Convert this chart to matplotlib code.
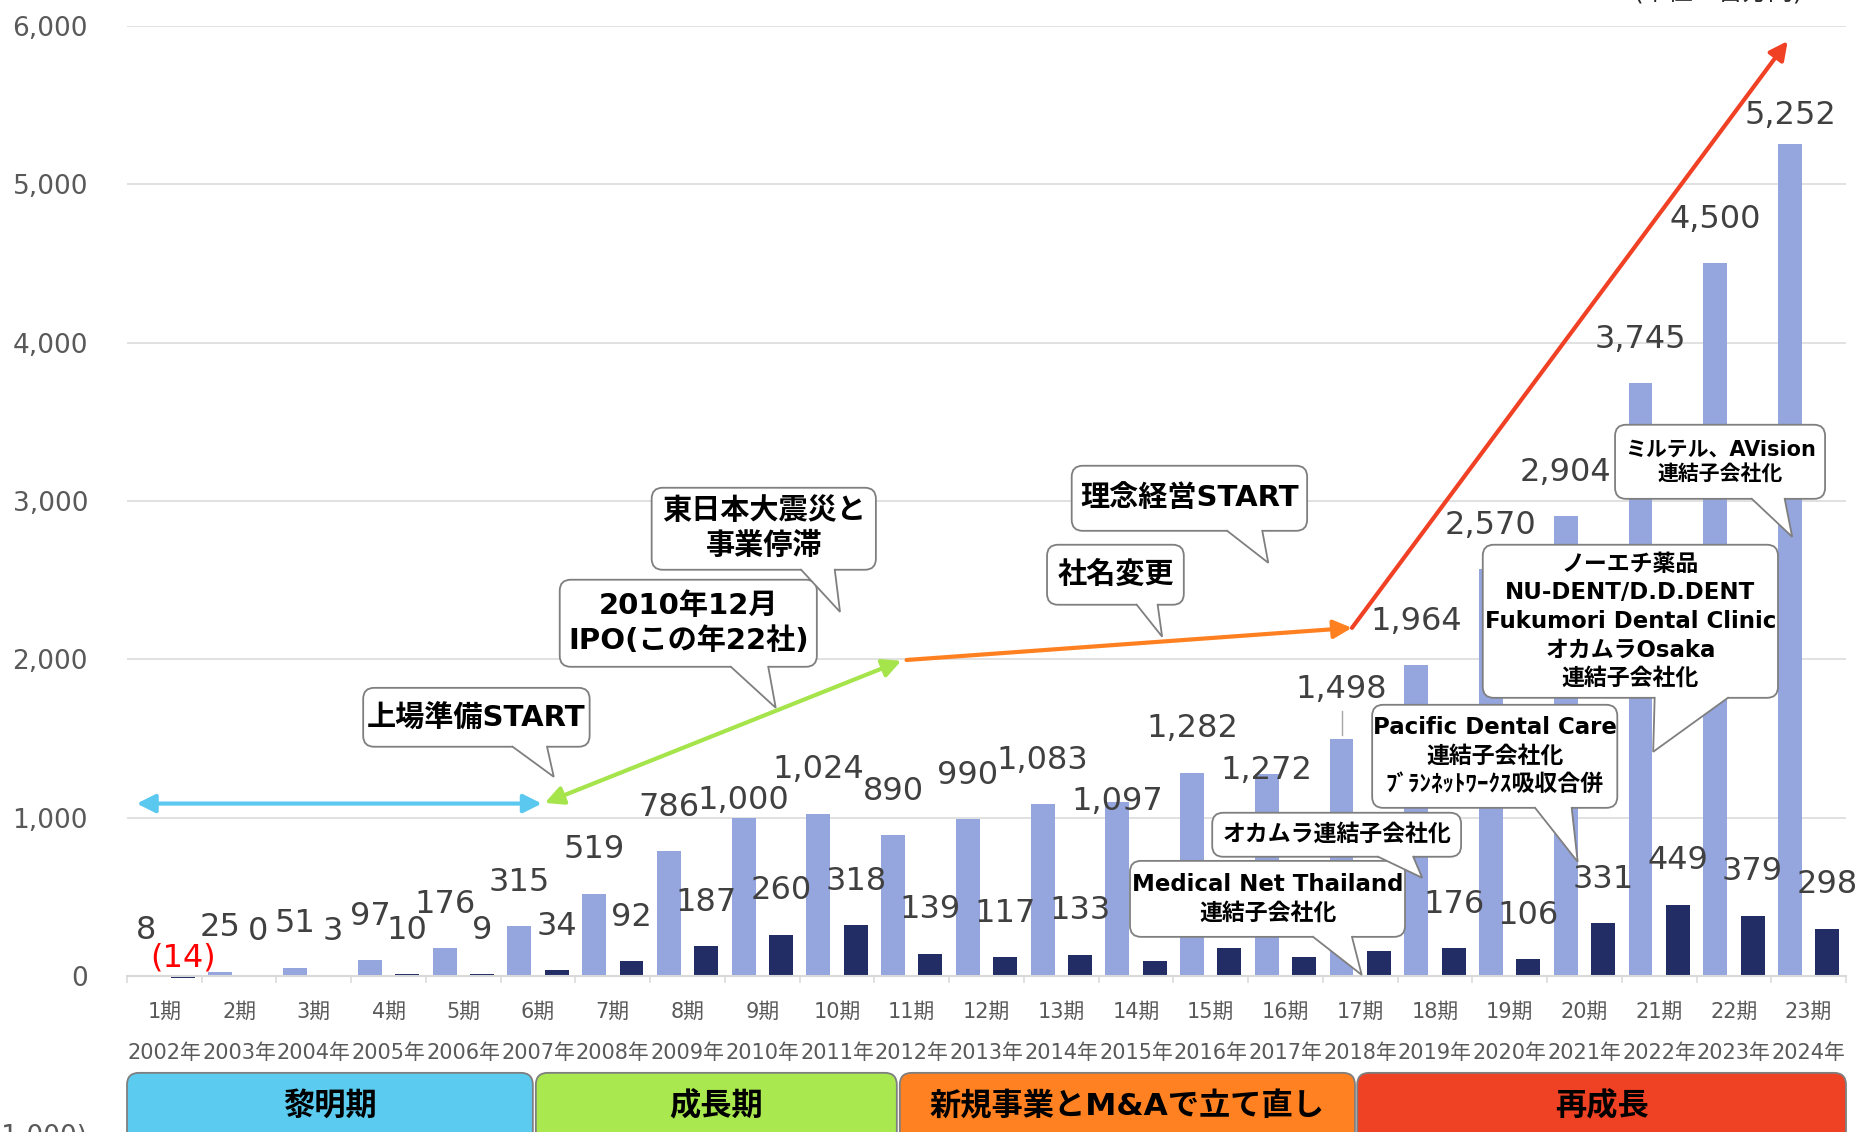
import matplotlib
matplotlib.use("Agg")
import matplotlib.pyplot as plt
from matplotlib.patches import FancyBboxPatch, Polygon, FancyArrowPatch, ArrowStyle
import numpy as np

# data
periods = ["1期", "2期", "3期", "4期", "5期", "6期", "7期", "8期", "9期", "10期", "11期", "12期",
           "13期", "14期", "15期", "16期", "17期", "18期", "19期", "20期", "21期", "22期", "23期"]
years = ["2002年", "2003年", "2004年", "2005年", "2006年", "2007年", "2008年", "2009年",
         "2010年", "2011年", "2012年", "2013年", "2014年", "2015年", "2016年", "2017年",
         "2018年", "2019年", "2020年", "2021年", "2022年", "2023年", "2024年"]
revenue = [8, 25, 51, 97, 176, 315, 519, 786, 1000, 1024, 890, 990, 1083, 1097, 1282,
           1272, 1498, 1964, 2570, 2904, 3745, 4500, 5252]
profit = [-14, 0, 3, 10, 9, 34, 92, 187, 260, 318, 139, 117, 133, 96, 177, 120, 154,
          176, 106, 331, 449, 379, 298]
phases = ["黎明期", "成長期", "新規事業とM&Aで立て直し", "再成長"]

# layout
phase_spans = [(-0.5, 4.93), (4.97, 9.80), (9.84, 15.93), (15.96, 22.5)]
phase_colors = ["#5BCBF0", "#A9E84F", "#FF8121", "#EF4123"]
rev_label_y = {8: 1105, 13: 1102, 15: 1300, 16: 1810, 22: 5432}
prof_label_y = {0: 114}
prof_label_hidden = {13, 14, 15, 16}   # covered by the callouts in the original

REV_C = "#95A5DE"
PROF_C = "#212D64"
GRID_C = "#D9D9D9"
EDGE_C = "#7F7F7F"

plt.rcParams["font.family"] = ["DejaVu Sans", "Noto Sans CJK JP"]

fig = plt.figure(figsize=(18.59, 11.32), dpi=100)
ax = fig.add_axes([127 / 1859, -0.00186, 1719 / 1859, 0.9789])
ax.set_xlim(-0.5, 22.5)
ax.set_ylim(-1000, 6000)

x = np.arange(len(revenue))
ax.bar(x - 0.25, revenue, width=0.32, color=REV_C, zorder=2)
ax.bar(x + 0.25, profit, width=0.32, color=PROF_C, zorder=2)

def fmt(v):
    return f"{v:,.0f}" if v >= 0 else f"({-v:,.0f})"

# data labels
for i, v in enumerate(revenue):
    kw = dict(ha="center", va="center", fontsize=23, color="#404040", zorder=3)
    if i in rev_label_y:
        ax.text(i - 0.25, rev_label_y[i], fmt(v), **kw)
    else:
        ax.annotate(fmt(v), (i - 0.25, v), xytext=(0, 31.6), textcoords="offset points", **kw)
for i, v in enumerate(profit):
    if i in prof_label_hidden:
        continue
    col = "#FF0000" if v < 0 else "#404040"
    kw = dict(ha="center", va="center", fontsize=23, color=col, zorder=3)
    if i in prof_label_y:
        ax.text(i + 0.25, prof_label_y[i], fmt(v), **kw)
    else:
        ax.annotate(fmt(v), (i + 0.25, max(v, 0)), xytext=(0, 31.6), textcoords="offset points", **kw)
ax.plot([15.75, 15.75], [1522, 1674], color="#A6A6A6", lw=1, zorder=3)

# axes styling
ticks = list(range(-1000, 7000, 1000))
ax.set_yticks(ticks, labels=[fmt(t) for t in ticks])
for lbl, t in zip(ax.get_yticklabels(), ticks):
    if t < 0:
        lbl.set_color("#FF0000")
ax.tick_params(axis="y", length=0, pad=28, labelsize=19, labelcolor="#595959")
ax.yaxis.grid(True, color=GRID_C, lw=1.1)
ax.set_axisbelow(True)
for s in ["left", "right", "top"]:
    ax.spines[s].set_visible(False)
ax.spines["bottom"].set_position(("data", 0))
ax.spines["bottom"].set_color(GRID_C)
ax.spines["bottom"].set_linewidth(1.5)
ax.set_xticks([])
ax.set_xticks(np.arange(-0.5, 23, 1), minor=True)
ax.tick_params(axis="x", which="minor", length=5, width=1.1, color=GRID_C, labelbottom=False)

for i in range(len(periods)):
    ax.text(i, -227, periods[i], ha="center", va="center", fontsize=15, color="#595959")
    ax.text(i, -486, years[i], ha="center", va="center", fontsize=15, color="#595959")

# pixel scale of the data units
p0 = ax.transData.transform((0, 0))
p1 = ax.transData.transform((1, 1000))
sx = p1[0] - p0[0]
sy = (p1[1] - p0[1]) / 1000

# phase boxes
for (a, b), name, col in zip(phase_spans, phases, phase_colors):
    box = FancyBboxPatch((a, -1100), b - a, 1100 - 613,
                         boxstyle=f"round,pad=0,rounding_size={12 / sx}",
                         mutation_aspect=sx / sy, fc=col, ec=EDGE_C, lw=1.3,
                         clip_on=False, zorder=3)
    ax.add_patch(box)
    ax.text((a + b) / 2, -821, name, ha="center", va="center", fontsize=22.5,
            fontweight="bold", color="black", zorder=4, clip_on=False)

# phase arrows
def arrow(a, b, col, style):
    st = ArrowStyle(style, head_length=11, head_width=5.5)
    ax.add_patch(FancyArrowPatch(a, b, arrowstyle=st, mutation_scale=1, lw=3, color=col,
                                 shrinkA=0, shrinkB=0, zorder=4, clip_on=False))

arrow((-0.37, 1088), (5.05, 1088), "#5BC8F0", "<|-|>")
arrow((5.09, 1092), (9.86, 1990), "#A5E44A", "<|-|>")
arrow((9.93, 1995), (15.89, 2198), "#FF8020", "-|>")
arrow((15.89, 2198), (21.72, 5905), "#F04125", "-|>")

# speech bubbles
def bubble(x0, x1, y0, y1, b0, b1, tip, text, size, z, ls=1.3):
    ax.add_patch(FancyBboxPatch((x0, y0), x1 - x0, y1 - y0,
                                boxstyle=f"round,pad=0,rounding_size={11 / sx}",
                                mutation_aspect=sx / sy, fc="white", ec=EDGE_C, lw=1.3,
                                zorder=z))
    e = 3 / sy
    ax.add_patch(Polygon([(b0, y0 + e), (b0, y0), tip, (b1, y0), (b1, y0 + e)],
                         closed=True, fc="white", ec="none", zorder=z + 0.1))
    ax.plot([b0, tip[0], b1], [y0, tip[1], y0], color=EDGE_C, lw=1.3, zorder=z + 0.2,
            solid_joinstyle="miter")
    ax.text((x0 + x1) / 2, (y0 + y1) / 2, text, ha="center", va="center", fontsize=size,
            fontweight="bold", color="black", linespacing=ls, multialignment="center",
            zorder=z + 0.3)

bubble(2.66, 5.69, 1447, 1819, 4.66, 5.12, (5.21, 1257), "上場準備START", 21, 5)
bubble(5.29, 8.73, 1952, 2502, 7.58, 8.08, (8.18, 1693), "2010年12月\nIPO(この年22社)", 21, 6)
bubble(6.52, 9.52, 2565, 3083, 8.52, 8.97, (9.04, 2299), "東日本大震災と\n事業停滞", 21, 7)
bubble(12.14, 15.29, 2811, 3222, 14.22, 14.69, (14.77, 2609), "理念経営START", 21, 8)
bubble(11.81, 13.64, 2344, 2723, 13.01, 13.29, (13.35, 2142), "社名変更", 21, 9)
bubble(12.92, 16.60, 246, 726, 15.37, 15.89, (16.02, 6), "Medical Net Thailand\n連結子会社化", 16.5, 10)
bubble(14.02, 17.35, 752, 1030, 16.24, 16.71, (16.83, 619), "オカムラ連結子会社化", 16.5, 11)
bubble(16.16, 19.44, 1061, 1712, 18.34, 18.83, (18.91, 720),
       "Pacific Dental Care\n連結子会社化\nﾌﾞﾗﾝﾈｯﾄﾜｰｸｽ吸収合併", 16.5, 12)
bubble(17.64, 21.59, 1756, 2723, 19.94, 20.92, (19.92, 1415),
       "ノーエチ薬品\nNU-DENT/D.D.DENT\nFukumori Dental Clinic\nオカムラOsaka\n連結子会社化", 16.5, 13)
bubble(19.41, 22.22, 3013, 3481, 21.24, 21.68, (21.78, 2773), "ミルテル、AVision\n連結子会社化", 15, 14)

fig.text(0.9247, 1.007, "(単位：百万円)", ha="center", va="center", fontsize=18, color="#262626")

fig.savefig("out.png", dpi=100)
